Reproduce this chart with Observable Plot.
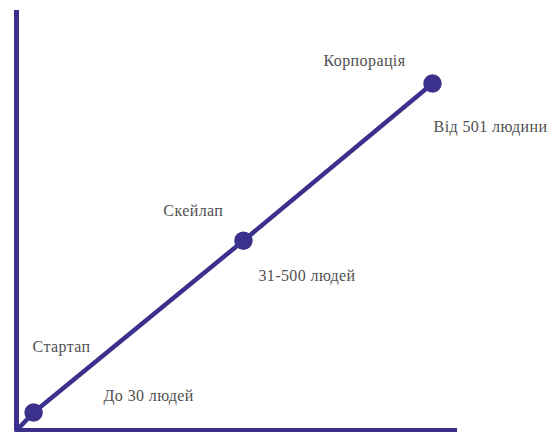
<!DOCTYPE html>
<html>
<head>
<meta charset="utf-8">
<script src="https://cdn.jsdelivr.net/npm/d3@7"></script>
<script src="https://cdn.jsdelivr.net/npm/@observablehq/plot@0.6"></script>
<style>
  html, body { margin: 0; padding: 0; background: #fff; }
  #chart svg { display: block; }
  #chart svg text { letter-spacing: 0.4px; }
</style>
</head>
<body>
<div id="chart"></div>
<script>
// Growth stages (abstract 0–100 units on both axes)
const stages = ["Стартап", "Скейлап", "Корпорація"];
const stageX = [3.2, 42.5, 77.9];
const stageY = [4.3, 45.2, 82.6];
const sizes = ["До 30 людей", "31-500 людей", "Від 501 людини"];

// Label anchor positions (same units)
const stageLabelX = [3.0, 27.5, 57.5];
const stageLabelY = [20.0, 52.4, 88.1];
const sizeLabelX = [16.3, 45.3, 78.1];
const sizeLabelY = [8.3, 36.9, 72.4];

const axisXEnd = 82.6;
const axisYEnd = 100;

const color = "#3b318c";
const textColor = "#505050";

const points = stages.map((s, i) => ({ stage: s, x: stageX[i], y: stageY[i] }));
const linePts = [{ x: 0, y: 0 }, ...points];
const stageLabels = stages.map((s, i) => ({ text: s, x: stageLabelX[i], y: stageLabelY[i] }));
const sizeLabels = sizes.map((s, i) => ({ text: s, x: sizeLabelX[i], y: sizeLabelY[i] }));

const chart = Plot.plot({
  width: 550,
  height: 432,
  marginLeft: 16,
  marginRight: 0,
  marginTop: 10,
  marginBottom: 2,
  x: { domain: [0, 100], axis: null },
  y: { domain: [0, 100], axis: null },
  marks: [
    Plot.ruleX([0], { y1: 0, y2: axisYEnd, stroke: color, strokeWidth: 5, strokeLinecap: "butt" }),
    Plot.ruleY([0], { x1: 0, x2: axisXEnd, stroke: color, strokeWidth: 5, strokeLinecap: "butt" }),
    Plot.line(linePts, { x: "x", y: "y", stroke: color, strokeWidth: 4.5 }),
    Plot.dot(points, { x: "x", y: "y", r: 8.5, fill: color, stroke: color }),
    Plot.text(stageLabels, { x: "x", y: "y", text: "text", textAnchor: "start", fill: textColor,
      fontFamily: "Liberation Serif", fontSize: 16 }),
    Plot.text(sizeLabels, { x: "x", y: "y", text: "text", textAnchor: "start", fill: textColor,
      fontFamily: "Liberation Serif", fontSize: 16 })
  ]
});
document.getElementById("chart").appendChild(chart);
</script>
</body>
</html>
